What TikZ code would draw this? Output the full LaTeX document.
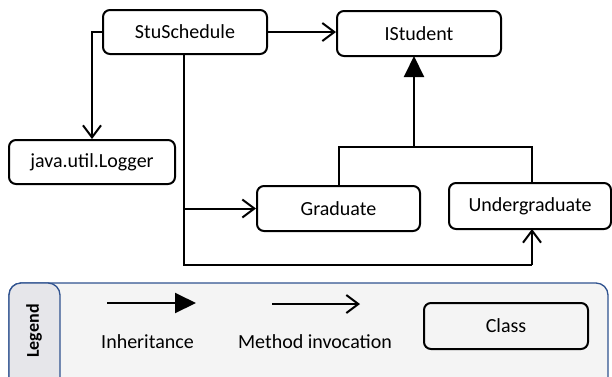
\documentclass[tikz,border=0pt]{standalone}
\usepackage{fontspec}
\setmainfont{Carlito}
\usetikzlibrary{arrows.meta}
\definecolor{legblue}{HTML}{2F528F}
\definecolor{legfill}{HTML}{F4F4F4}
\definecolor{tabfill}{HTML}{E6E6EA}
\tikzset{
  cls/.style={draw=black, line width=2pt, rounded corners=7pt, fill=white, inner sep=0pt, font=\fontsize{20}{24}\selectfont},
  call/.style={line width=2pt, -{Straight Barb[length=12pt,width=18pt,line width=2pt]}},
  inh/.style={line width=2pt, -{Triangle[length=21pt,width=20pt]}},
  plain/.style={line width=2pt},
  lbl/.style={font=\fontsize{20}{24}\selectfont, inner sep=0pt}
}
\begin{document}
\begin{tikzpicture}[x=1pt,y=-1pt]
\useasboundingbox (0,0) rectangle (612,376);
\clip (0,0) rectangle (612,376);
% class boxes
\node[cls, minimum width=164pt, minimum height=44pt] (stu) at (185,32) {StuSchedule};
\node[cls, minimum width=164pt, minimum height=45pt] (ist) at (419,33.5) {IStudent};
\node[cls, minimum width=166pt, minimum height=44pt] (log) at (92,162) {java.util.Logger};
\node[cls, minimum width=163pt, minimum height=45pt] (grad) at (338.5,208.5) {Graduate};
\node[cls, minimum width=162pt, minimum height=46pt] (ug) at (530,206) {Undergraduate};
% method invocations
\draw[call] (stu.west) -| (log.north);
\draw[call] (stu.east) -- (ist.west |- stu.east);
\coordinate (sdown) at (184,54);
\coordinate (sbr) at (184,208.5);
\coordinate (sbot) at (184,265);
\coordinate (ubot) at (532,265);
\coordinate (utop) at (532,229);
\draw[plain] (sdown) -- (sbot) -- (ubot);
\draw[call] (ubot) -- (utop);
\draw[call] (sbr) -- (grad.west);
% inheritance
\coordinate (jn) at (414,147);
\coordinate (jl) at (338.5,147);
\coordinate (jr) at (532,147);
\coordinate (ur) at (532,183);
\coordinate (itop) at (414,56);
\draw[plain] (grad.north) -- (jl) -- (jr) -- (ur);
\draw[inh] (jn) -- (itop);
% legend
\draw[legblue, line width=1.3pt, fill=legfill, rounded corners=12pt] (9,283) rectangle (608,400);
\draw[legblue, line width=1.3pt, fill=tabfill, rounded corners=12pt] (9,283) rectangle (60,400);
\node[font=\fontsize{18}{22}\selectfont\bfseries, rotate=90, inner sep=0pt] (legt) at (34,331) {Legend};
\coordinate (ia) at (107,303);
\coordinate (ib) at (196,303);
\draw[inh] (ia) -- (ib);
\node[lbl] (itx) at (147.5,342) {Inheritance};
\coordinate (ma) at (272,304);
\coordinate (mb) at (360,304);
\draw[call] (ma) -- (mb);
\node[lbl] (mtx) at (315,342) {Method invocation};
\node[cls, fill=none, minimum width=164pt, minimum height=46pt] (clsbox) at (506,326) {Class};
\end{tikzpicture}
\end{document}
